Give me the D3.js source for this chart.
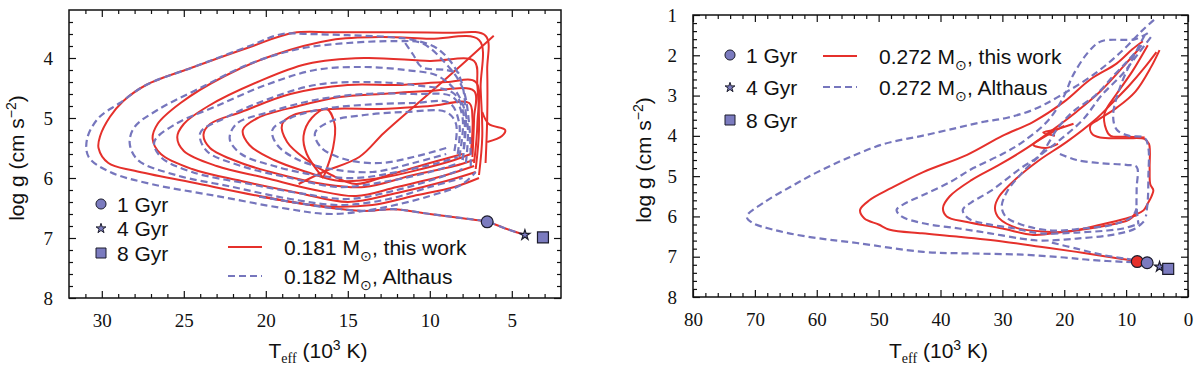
<!DOCTYPE html>
<html><head><meta charset="utf-8">
<script src="https://cdn.jsdelivr.net/npm/d3@7"></script>
<style>
body{margin:0;background:#fff}
</style></head><body>
<svg id="chart" width="1200" height="374" font-family="Liberation Sans, Arial, sans-serif"></svg>
<script>
// Left panel: 0.181 / 0.182 Msun tracks. Each loop is [Teff (10^3 K), log g] pairs.
const LEFT_RED = [
  [[6.6,5.75],[6.5,5.0],[6.5,4.2],[6.6,3.63],[9,3.58],[13,3.57],[16,3.57],[18.3,3.58],[21,3.82],[24.4,4.15],[27.3,4.45],[28.7,4.72],[29.5,4.98],[30.1,5.3],[30.2,5.5],[29.6,5.75],[28.0,5.88],[24.4,6.08],[20.4,6.3],[16.5,6.47],[13.5,6.45],[11,6.3],[8.5,6.15],[7,6.0]],
  [[7,5.95],[6.8,5.3],[6.9,4.5],[7.0,3.7],[10,3.68],[13,3.65],[16,3.7],[19.5,3.95],[22.5,4.3],[25.2,4.75],[26.6,5.1],[26.9,5.35],[26.4,5.6],[24.5,5.85],[21.5,6.05],[18,6.25],[15,6.4],[12,6.25],[9,6.05],[7.2,5.9]],
  [[7.2,5.85],[7.0,5.2],[7.1,4.45],[7.3,4.05],[10,4.05],[14,4.0],[17.5,4.1],[20.5,4.4],[23.5,4.8],[25.0,5.1],[25.4,5.32],[25.0,5.55],[23,5.8],[20,6.0],[17,6.2],[14.5,6.3],[12,6.15],[9,5.95],[7.3,5.8]],
  [[7.3,5.75],[7.1,5.1],[7.2,4.4],[9,4.4],[12,4.45],[15,4.45],[18.5,4.6],[21.5,4.9],[23.4,5.1],[23.8,5.28],[23.4,5.5],[21.5,5.75],[19,5.95],[16.5,6.1],[14,6.15],[11,5.95],[8.5,5.8],[7.3,5.7]],
  [[7.4,5.65],[7.3,5.0],[7.3,4.55],[10,4.55],[13,4.6],[15.5,4.65],[18,4.8],[20.5,5.0],[21.4,5.2],[21.0,5.45],[19.5,5.7],[17.5,5.9],[15.5,6.05],[13,6.0],[10.5,5.85],[8.5,5.7],[7.5,5.6]],
  [[7.5,5.6],[7.4,5.0],[7.6,4.75],[10,4.8],[13,4.85],[16,4.85],[18.3,4.95],[19.0,5.1],[18.7,5.4],[17.5,5.7],[16,5.95],[14.5,6.1],[12.5,5.95],[10,5.75],[8,5.6]],
  [[16.5,6.0],[17.5,5.6],[17.7,5.3],[17.2,5.0],[16.3,4.85],[15.8,5.1],[15.9,5.5],[16.5,6.0]],
  [[6.1,3.63],[8,4.1],[10.5,4.7],[12.8,5.25],[14.3,5.65],[16.5,5.9],[18,6.1]],
  [[6.8,4.9],[6.4,5.1],[5.4,5.2],[5.6,5.3],[6.5,5.4]],
  [[20.4,6.31],[18,6.42],[16,6.5],[14,6.55],[12.2,6.52],[10,6.6],[8,6.67],[6.5,6.73],[5.3,6.85],[4.2,6.95]]
];
const LEFT_BLUE = [
  [[8,5.7],[7.8,5.0],[8.2,4.3],[9.5,3.85],[11,3.7],[12.5,3.65],[15,3.62],[17.5,3.6],[19,3.6],[21,3.8],[24.4,4.15],[27.3,4.45],[28.9,4.75],[30.2,5.0],[30.9,5.35],[30.8,5.65],[29.5,5.9],[27,6.1],[23,6.3],[19,6.5],[16,6.6],[13,6.5],[10,6.3],[8,6.1],[7.2,5.9]],
  [[7.5,5.8],[7.6,5.1],[8.0,4.5],[9,4.1],[10.5,3.75],[12,3.72],[15,3.75],[18,3.85],[21,4.1],[24,4.5],[26.5,4.85],[28.0,5.15],[28.3,5.42],[27.8,5.7],[25.5,5.95],[22,6.15],[18.5,6.35],[15.5,6.45],[12.5,6.35],[10,6.15],[8,6.0]],
  [[7.8,5.75],[7.7,5.1],[8.3,4.6],[9.5,4.3],[11.5,4.2],[14,4.15],[17,4.2],[20,4.45],[23,4.8],[25.5,5.1],[26.8,5.4],[26.4,5.65],[24.5,5.9],[21,6.1],[18,6.25],[15,6.35],[12,6.2],[9.5,6.0],[8,5.85]],
  [[8,5.7],[7.9,5.0],[8.5,4.6],[11,4.45],[14,4.4],[17,4.45],[20,4.7],[22.5,5.0],[24.0,5.25],[23.6,5.55],[21.5,5.8],[18.5,6.0],[15.5,6.15],[12.5,6.05],[10,5.9],[8.2,5.75]],
  [[8.2,5.65],[8.0,5.0],[8.6,4.65],[11,4.6],[14,4.6],[17,4.7],[19.8,4.9],[21.8,5.1],[22.2,5.35],[21.5,5.6],[19.5,5.8],[17,5.95],[14.5,6.0],[12,5.9],[9.5,5.75],[8.3,5.65]],
  [[8.3,5.6],[8.2,5.1],[8.8,4.75],[11,4.75],[14,4.78],[16.5,4.85],[18.5,5.0],[19.6,5.2],[19.3,5.45],[18,5.7],[16,5.85],[13.5,5.9],[11,5.75],[9,5.6]],
  [[8.5,5.55],[8.4,5.1],[9,4.9],[11.5,4.9],[14,4.95],[16,5.05],[17,5.25],[16.6,5.5],[15,5.7],[13,5.75],[11,5.65],[9,5.5]],
  [[11.5,3.75],[11.0,3.95],[10.5,4.15],[9.0,4.2],[8.2,4.25]],
  [[20.4,6.31],[18,6.42],[16,6.5],[14,6.55],[12.2,6.52],[10,6.6],[8,6.67],[6.5,6.73],[5.3,6.85],[4.2,6.95]]
];
// Right panel: 0.272 Msun tracks
const RIGHT_RED = [
  [[7.3,1.65],[9,1.85],[11.5,2.2],[15.8,2.6],[20,3.15],[25,3.65],[30,4.0],[35.7,4.47],[42.8,4.9],[48,5.3],[51.5,5.6],[53,5.84],[52.3,6.05],[50,6.2],[48.2,6.33],[43,6.42],[37.4,6.5],[30,6.62],[23.9,6.75],[18,6.88],[13,7.0],[10,7.07],[8.2,7.12]],
  [[7.8,1.82],[10,2.2],[14.2,2.9],[18,3.4],[22.3,3.9],[26,4.3],[30.4,4.71],[35,5.1],[38.5,5.5],[39.6,5.79],[39,6.0],[35.7,6.14],[30,6.3],[25,6.46],[20,6.38],[14,6.25],[9.5,6.08],[8.4,5.9]],
  [[5.1,1.92],[7,2.3],[9.5,2.75],[12.1,3.16],[15,3.6],[19.6,4.15],[24,4.6],[27.6,5.04],[30.5,5.5],[31.2,5.79],[30.5,6.05],[27.6,6.29],[23,6.38],[19.6,6.38],[14,6.2],[10,6.05],[8.3,5.97]],
  [[4.6,1.87],[6,2.3],[8.5,2.9],[11.5,3.3],[14.5,3.6],[15.8,3.75],[15.5,3.95],[14.2,4.04],[10,4.06],[7,4.08],[6.3,4.2],[6.2,4.8],[6.1,5.2],[5.6,5.35],[5.9,5.5],[6.4,5.65],[7.2,5.85],[8.4,5.95]],
  [[6.5,1.75],[9,2.4],[11.5,2.95],[13.5,3.45],[13.2,3.85],[12.5,4.0],[10,4.02],[7,4.04]],
  [[20,3.75],[23.5,4.05],[25,4.22],[23,4.3],[21,4.2]],
  [[18.5,3.7],[21.5,3.85],[23.4,3.92],[21.5,4.0]]
];
const RIGHT_BLUE = [
  [[5.5,1.12],[7.5,1.4],[10.5,1.87],[15,2.45],[21.2,3.05],[25,3.35],[29.2,3.55],[33,3.65],[37.3,3.8],[43,4.0],[49.1,4.2],[55,4.55],[59.9,4.9],[64.3,5.27],[68.5,5.65],[71.3,6.0],[70.5,6.15],[67,6.33],[61.6,6.5],[53.5,6.66],[42.8,6.88],[35,6.92],[26.7,6.95],[20,7.02],[15.8,7.08],[10,7.13],[6.6,7.15]],
  [[6.5,1.45],[8.5,1.6],[14,1.65],[16,1.9],[18.6,2.5],[20,3.0],[22.5,3.6],[26.7,4.15],[30,4.45],[34.7,4.8],[38.5,5.15],[42.8,5.47],[46,5.7],[47.1,5.84],[46.3,6.0],[42.8,6.17],[37,6.3],[32,6.42],[27,6.55],[23.9,6.6],[18,6.55],[12,6.45],[8.5,6.3],[7,6.1]],
  [[7.5,1.75],[9.5,2.1],[12,2.5],[15,3.0],[18.6,3.4],[21,3.8],[23.9,4.47],[27,4.8],[32,5.38],[35,5.65],[36.4,5.84],[35.5,6.05],[33.1,6.17],[28,6.3],[23.9,6.42],[18,6.4],[13,6.35],[10.5,6.3],[8.3,6.2]],
  [[6.0,1.55],[8,1.95],[10.5,2.45],[14,3.0],[17,3.6],[20.7,4.1],[24,4.5],[27,4.95],[29.3,5.4],[30.1,5.75],[29.5,6.0],[27,6.2],[22,6.35],[17,6.3],[12,6.2],[9,6.0],[8.3,5.8]],
  [[20.7,4.45],[18,4.6],[14,4.68],[10,4.72],[8.3,4.77],[8.3,5.3],[8.3,5.8],[8.0,6.2]],
  [[7.0,1.5],[9,2.1],[11,2.8],[12.1,3.5],[11.5,3.85],[9.5,4.0],[7.0,4.05],[6.4,4.3],[6.4,5.0],[6.5,5.6],[6.8,6.0]],
  [[22,6.65],[18,6.8],[14,6.95],[10,7.05],[7.5,7.1]]
];
// age markers: [Teff, log g]
const LEFT_AGES = [[6.5,6.73],[4.2,6.95],[3.1,6.99]];
const RIGHT_AGES = [[6.6,7.15],[4.6,7.25],[3.2,7.3]];
const RIGHT_RED_DOT = [8.2,7.12];
const AGE_LABELS = ["1 Gyr","4 Gyr","8 Gyr"];
const LEFT_SERIES = ["0.181","0.182"];
const RIGHT_SERIES = ["0.272","0.272"];
const SERIES_SUFFIX = [", this work",", Althaus"];

const RED = "#e5302b", BLUE = "#7676bd", MFILL = "#7b7bbf", MSTROKE = "#1c1c2c";
const SYMS = [d3.symbolCircle, d3.symbolStar, d3.symbolSquare];
const SERIF = "Liberation Serif, DejaVu Serif, serif";
const SANS = "Liberation Sans, Arial, sans-serif";
const svg = d3.select("#chart");

function panel(cfg){
  const x = d3.scaleLinear().domain(cfg.xDomain).range([cfg.left, cfg.right]);
  const y = d3.scaleLinear().domain(cfg.yDomain).range([cfg.top, cfg.bottom]);
  const g = svg.append("g").attr("fill", "#111");
  const clipId = "clip" + cfg.left;
  svg.append("clipPath").attr("id", clipId).append("rect")
    .attr("x", cfg.left).attr("y", cfg.top)
    .attr("width", cfg.right-cfg.left).attr("height", cfg.bottom-cfg.top);

  // ticks point inward on all four sides, labels only bottom/left (serif digits)
  const put = (axis, tx, ty) => {
    const a = g.append("g").attr("transform", `translate(${tx},${ty})`).call(axis)
      .attr("font-family", SERIF).attr("font-size", 19);
    a.select(".domain").remove();
    a.selectAll("line").attr("stroke", "#111").attr("stroke-width", 1.2);
    a.selectAll("text").attr("fill", "#111");
    return a;
  };
  put(d3.axisBottom(x).tickValues(cfg.xMajor).tickSizeInner(-7).tickSizeOuter(0).tickPadding(16).tickFormat(d3.format("d")), 0, cfg.bottom);
  put(d3.axisBottom(x).tickValues(cfg.xMinor).tickSize(-4).tickFormat(""), 0, cfg.bottom);
  put(d3.axisTop(x).tickValues(cfg.xMajor).tickSize(-7).tickFormat(""), 0, cfg.top);
  put(d3.axisTop(x).tickValues(cfg.xMinor).tickSize(-4).tickFormat(""), 0, cfg.top);
  put(d3.axisLeft(y).tickValues(cfg.yMajor).tickSizeInner(-7).tickSizeOuter(0).tickPadding(16).tickFormat(d3.format("d")), cfg.left, 0);
  put(d3.axisLeft(y).tickValues(cfg.yMinor).tickSize(-4).tickFormat(""), cfg.left, 0);
  put(d3.axisRight(y).tickValues(cfg.yMajor).tickSize(-7).tickFormat(""), cfg.right, 0);
  put(d3.axisRight(y).tickValues(cfg.yMinor).tickSize(-4).tickFormat(""), cfg.right, 0);

  const line = d3.line().x(d=>x(d[0])).y(d=>y(d[1])).curve(d3.curveCatmullRom.alpha(0.5));
  const plot = g.append("g").attr("clip-path", `url(#${clipId})`);
  plot.selectAll("path.red").data(cfg.red).join("path").attr("class","red")
    .attr("d", line).attr("fill","none").attr("stroke",RED).attr("stroke-width",2);
  plot.selectAll("path.blue").data(cfg.blue).join("path").attr("class","blue")
    .attr("d", line).attr("fill","none").attr("stroke",BLUE).attr("stroke-width",2.2)
    .attr("stroke-dasharray","7,4");

  if (cfg.redDot) plot.append("path").attr("d", d3.symbol(d3.symbolCircle, 110)())
    .attr("transform", `translate(${x(cfg.redDot[0])},${y(cfg.redDot[1])})`)
    .attr("fill", RED).attr("stroke", MSTROKE).attr("stroke-width", 1.2);
  plot.selectAll("path.age").data(cfg.ages).join("path").attr("class","age")
    .attr("d", (d,i)=>d3.symbol(SYMS[i], [110,32,120][i])())
    .attr("transform", d=>`translate(${x(d[0])},${y(d[1])})`)
    .attr("fill", MFILL).attr("stroke", MSTROKE).attr("stroke-width", 1.2);

  g.append("rect").attr("x",cfg.left).attr("y",cfg.top)
    .attr("width",cfg.right-cfg.left).attr("height",cfg.bottom-cfg.top)
    .attr("fill","none").attr("stroke","#111").attr("stroke-width",1.5);

  // age legend
  const lg = g.append("g").attr("font-family", SANS);
  AGE_LABELS.forEach((t,i)=>{
    const yy = cfg.ageLeg[1] + i*cfg.ageStep;
    lg.append("path").attr("d", d3.symbol(SYMS[i], [80,30,100][i])())
      .attr("transform", `translate(${cfg.ageLeg[0]},${yy})`)
      .attr("fill", MFILL).attr("stroke", MSTROKE).attr("stroke-width", 1);
    lg.append("text").attr("x", cfg.ageLeg[0]+16).attr("y", yy+7.5)
      .attr("font-size", 21).text(t);
  });
  // series legend
  cfg.series.forEach((m,i)=>{
    const yy = cfg.serLeg[1] + i*cfg.serStep;
    lg.append("line").attr("x1", cfg.serLeg[0]).attr("x2", cfg.serLeg[0]+34)
      .attr("y1", yy).attr("y2", yy).attr("stroke", i ? BLUE : RED)
      .attr("stroke-width", 2.2).attr("stroke-dasharray", i ? "7,4" : null);
    const t = lg.append("text").attr("x", cfg.serLeg[0]+56).attr("y", yy+7.5).attr("font-size", 21);
    t.append("tspan").text(m + " M");
    t.append("tspan").attr("dy", 6).attr("font-size", 14).text("⊙");
    t.append("tspan").attr("dy", -6).text(SERIES_SUFFIX[i]);
  });

  // axis titles
  const yl = g.append("text").attr("font-family", SANS).attr("font-size", 21).attr("text-anchor","middle")
    .attr("transform", `translate(${cfg.yTitleX},${(cfg.top+cfg.bottom)/2 + 4}) rotate(-90)`);
  yl.append("tspan").text("log g (cm s");
  yl.append("tspan").attr("dy",-8).attr("font-size",14).text("−2");
  yl.append("tspan").attr("dy",8).text(")");
  const xl = g.append("text").attr("font-family", SANS).attr("font-size", 21).attr("text-anchor","middle")
    .attr("x", (cfg.left+cfg.right)/2 + cfg.xTitleShift).attr("y", 358);
  xl.append("tspan").text("T");
  xl.append("tspan").attr("dy",5).attr("font-size",14).attr("font-family", SERIF).text("eff");
  xl.append("tspan").attr("dy",-5).text(" (10");
  xl.append("tspan").attr("dy",-8).attr("font-size",14).text("3");
  xl.append("tspan").attr("dy",8).text(" K)");
}

panel({
  left:69, right:561, top:10, bottom:298,
  xDomain:[32,2], yDomain:[3.2,8],
  xMajor:[30,25,20,15,10,5], xMinor:d3.range(3,32).filter(v=>v%5),
  yMajor:[4,5,6,7,8], yMinor:d3.range(3.4,8,0.2).map(v=>+v.toFixed(1)).filter(v=>Math.abs(v-Math.round(v))>0.01),
  red:LEFT_RED, blue:LEFT_BLUE, ages:LEFT_AGES, redDot:null,
  ageLeg:[101,204], ageStep:24.5, serLeg:[228,247], serStep:29,
  series:LEFT_SERIES, yTitleX:24, xTitleShift:3
});
panel({
  left:693, right:1188, top:15, bottom:297,
  xDomain:[80,0], yDomain:[1,8],
  xMajor:[80,70,60,50,40,30,20,10,0], xMinor:d3.range(2,80,2).filter(v=>v%10),
  yMajor:[1,2,3,4,5,6,7,8], yMinor:d3.range(1.2,8,0.2).map(v=>+v.toFixed(1)).filter(v=>Math.abs(v-Math.round(v))>0.01),
  red:RIGHT_RED, blue:RIGHT_BLUE, ages:RIGHT_AGES, redDot:RIGHT_RED_DOT,
  ageLeg:[730,55], ageStep:32.5, serLeg:[823,56], serStep:31,
  series:RIGHT_SERIES, yTitleX:651, xTitleShift:-2
});
</script>
</body></html>
